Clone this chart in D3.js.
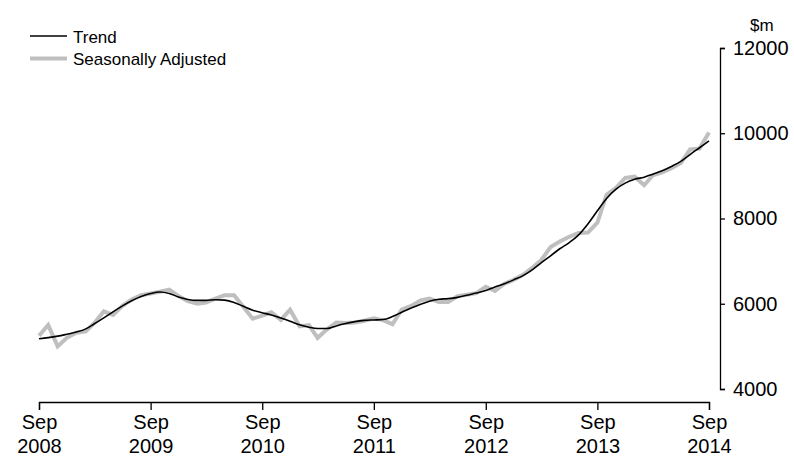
<!DOCTYPE html>
<html>
<head>
<meta charset="utf-8">
<script src="https://cdn.jsdelivr.net/npm/d3@7"></script>
<style>
    body { margin: 0; background: #fff; }
    svg text { font-family: "Liberation Sans", Arial, sans-serif; fill: #000; }
</style>
</head>
<body>
<div id="chart"></div>
<script>
// monthly, Sep 2008 .. Sep 2014
const startMonth = '2008-09';
const monthCount = 73;

const trend = [
    5180, 5205, 5240, 5285, 5335, 5410, 5530, 5670, 5810, 5950, 6070, 6170,
    6240, 6275, 6240, 6160, 6100, 6080, 6080, 6095, 6085, 6030, 5940, 5850,
    5790, 5735, 5665, 5590, 5505, 5450, 5420, 5420, 5480, 5535, 5580, 5610,
    5620, 5630, 5700, 5800, 5900, 5990, 6060, 6105, 6120, 6150, 6200, 6250,
    6310, 6395, 6470, 6560, 6660, 6800, 6960, 7125, 7290, 7435, 7610, 7870,
    8180, 8470, 8690, 8830, 8920, 8970, 9040, 9120, 9220, 9340, 9500, 9660,
    9820
];

const seasAdj = [
    5250, 5500, 5000, 5200, 5320, 5350, 5550, 5820, 5740, 5950, 6100, 6200,
    6240, 6280, 6330, 6180, 6060, 6000, 6030, 6120, 6200, 6200, 5930, 5650,
    5720, 5800, 5620, 5860, 5470, 5500, 5200, 5400, 5560, 5550, 5560, 5600,
    5660, 5615, 5520, 5860, 5950, 6080, 6120, 6040, 6040, 6180, 6210, 6250,
    6400, 6300, 6470, 6560, 6680, 6850, 7020, 7330, 7460, 7570, 7660, 7670,
    7900, 8560, 8720, 8950, 8980, 8780, 9010, 9080, 9180, 9300, 9620, 9640,
    10020
];

const yTicks = [4000, 6000, 8000, 10000, 12000];
const xTickYears = [2008, 2009, 2010, 2011, 2012, 2013, 2014];
const legendLabels = ['Trend', 'Seasonally Adjusted'];

const width = 794, height = 456;
const colors = { trend: '#000000', seas: '#bfbfbf' };

const parseMonth = d3.timeParse('%Y-%m');
const start = parseMonth(startMonth);
const dates = d3.range(monthCount).map(i => d3.timeMonth.offset(start, i));

const svg = d3.select('#chart')
    .append('svg')
    .attr('width', width)
    .attr('height', height);

const x = d3.scaleTime()
    .domain([dates[0], dates[dates.length - 1]])
    .range([39, 709]);

const y = d3.scaleLinear()
    .domain([4000, 12000])
    .range([389, 48]);

// y axis on the right
const yAxis = svg.append('g')
    .attr('transform', 'translate(720,0)')
    .call(d3.axisRight(y)
        .tickValues(yTicks)
        .tickSize(5)
        .tickSizeOuter(5)
        .tickPadding(8)
        .tickFormat(d3.format('d')));
yAxis.selectAll('path, line').attr('stroke', '#000').attr('stroke-width', 1.3);
yAxis.selectAll('text').style('font-size', '20px').attr('fill', '#000');

svg.append('text')
    .attr('x', 750)
    .attr('y', 31)
    .style('font-size', '17px')
    .text('$m');

// x axis, two-line labels
const xTickDates = xTickYears.map(yr => new Date(yr, 8, 1));
const xAxis = svg.append('g')
    .attr('transform', 'translate(0,402)')
    .call(d3.axisBottom(x)
        .tickValues(xTickDates)
        .tickSize(8)
        .tickSizeOuter(8)
        .tickFormat(''));
xAxis.selectAll('path, line').attr('stroke', '#000').attr('stroke-width', 1.3);
xAxis.selectAll('.tick text').remove();
const xLabels = xAxis.selectAll('.tick')
    .append('text')
    .attr('text-anchor', 'middle')
    .style('font-size', '20px');
xLabels.append('tspan').attr('x', 0).attr('y', 27).text('Sep');
xLabels.append('tspan').attr('x', 0).attr('y', 51).text(d => d3.timeFormat('%Y')(d));

// lines
const line = d3.line()
    .x((d, i) => x(dates[i]))
    .y(d => y(d));

svg.append('path')
    .datum(seasAdj)
    .attr('fill', 'none')
    .attr('stroke', colors.seas)
    .attr('stroke-width', 4)
    .attr('stroke-linejoin', 'miter')
    .attr('d', line);

svg.append('path')
    .datum(trend)
    .attr('fill', 'none')
    .attr('stroke', colors.trend)
    .attr('stroke-width', 1.6)
    .attr('d', d3.line().curve(d3.curveMonotoneX).x((d, i) => x(dates[i])).y(d => y(d)));

// legend
const legend = svg.append('g');
const legendRows = [
    { label: legendLabels[0], color: colors.trend, w: 1.6, y: 36 },
    { label: legendLabels[1], color: colors.seas, w: 4, y: 58.5 }
];
legendRows.forEach(r => {
    legend.append('line')
        .attr('x1', 30).attr('x2', 67)
        .attr('y1', r.y).attr('y2', r.y)
        .attr('stroke', r.color)
        .attr('stroke-width', r.w);
    legend.append('text')
        .attr('x', 73)
        .attr('y', r.y + 6.5)
        .style('font-size', '17px')
        .text(r.label);
});
</script>
</body>
</html>
